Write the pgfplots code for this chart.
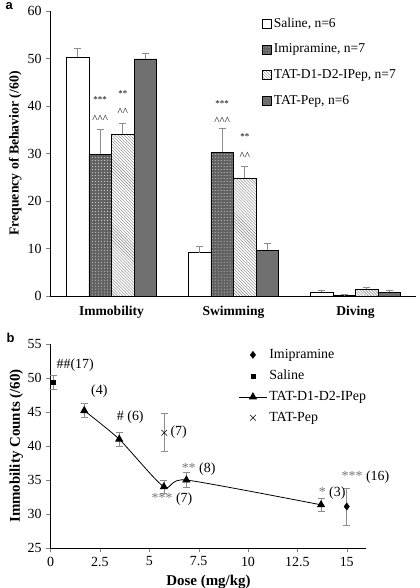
\documentclass[border=0pt]{standalone}
\usepackage{fontspec}
\setmainfont{Liberation Serif}
\newfontfamily\arialf{Liberation Sans}
\usepackage{pgfplots}
\pgfplotsset{compat=1.18}
\usetikzlibrary{patterns}
\definecolor{bargray}{RGB}{112,112,112}
\definecolor{dotgray}{RGB}{98,98,98}
\definecolor{errgray}{RGB}{140,140,140}
\definecolor{stargray}{RGB}{120,120,120}
\newcommand{\fs}[1]{\fontsize{#1}{#1}\selectfont}
\pgfplotstableread{
x y e
-0.2775 50.3 1.8
0.7225 9.1 1.4
1.7225 0.8 0.4
}\saline
\pgfplotstableread{
x y e
-0.0925 29.8 5.2
0.9075 30.3 5.0
1.9075 0.2 0.1
}\imip
\pgfplotstableread{
x y e
0.0925 34.1 2.3
1.0925 24.8 2.5
2.0925 1.4 0.5
}\tatd
\pgfplotstableread{
x y e
0.2775 49.9 1.1
1.2775 9.6 1.4
2.2775 0.8 0.4
}\tatpep
\begin{document}
\fs{14}
\begin{tikzpicture}
\useasboundingbox (0,0) rectangle (416bp,-588bp);
\node[anchor=north west, inner sep=0pt, font=\arialf\bfseries\fs{13}] at (2bp,-2bp) {a};
\node[anchor=north west, inner sep=0pt, font=\arialf\bfseries\fs{13}] at (3bp,-333bp) {b};
\begin{axis}[
  at={(47bp,-296bp)}, anchor=south west,
  scale only axis, width=366bp, height=285bp,
  xmin=-0.5, xmax=2.5, ymin=0, ymax=60,
  axis x line*=bottom, axis y line*=left,
  xtick={0,1,2}, xticklabels={Immobility,Swimming,Diving},
  /pgf/number format/assume math mode=true,
  y tick label style={font=\fs{14}},
  x tick label style={font=\bfseries\fs{13.6}, yshift=-1bp},
  major x tick style={draw=none},
  ytick={0,10,...,60},
  tick align=outside, major tick length=4bp,
  every axis y label/.style={at={(axis description cs:-0.096,0.5)}, rotate=90, anchor=center, font=\bfseries\fs{13.8}},
  ylabel={Frequency of Behavior (/60)},
  error bars/y dir=plus, error bars/y explicit,
  error bars/error bar style={errgray, line width=0.7pt},
  error bars/error mark options={errgray, rotate=90, mark size=3.5bp, line width=0.7pt},
  legend style={at={(axis description cs:0.57,0.99)}, anchor=north west, draw=none, fill=none, row sep=10.5bp, font=\fs{13.6}},
  legend cell align=left,
  legend image code/.code={\draw[#1] (0bp,-4.5bp) rectangle (9bp,4.5bp);},
]
\addplot[ybar, bar shift=0pt, bar width=0.185, fill=white, draw=black, line width=0.6pt]
  table[x=x, y=y, y error=e] {\saline};
\addlegendentry{Saline, n=6}
\addplot[ybar, bar shift=0pt, bar width=0.185, fill=dotgray, draw=black, line width=0.6pt, postaction={pattern=dots, pattern color=white!75!gray}]
  table[x=x, y=y, y error=e] {\imip};
\addlegendentry{Imipramine, n=7}
\addplot[ybar, bar shift=0pt, bar width=0.185, fill=white, draw=black, line width=0.6pt, postaction={pattern=north west lines, pattern color=gray}]
  table[x=x, y=y, y error=e] {\tatd};
\addlegendentry{TAT-D1-D2-IPep, n=7}
\addplot[ybar, bar shift=0pt, bar width=0.185, fill=bargray, draw=black, line width=0.6pt]
  table[x=x, y=y, y error=e] {\tatpep};
\addlegendentry{TAT-Pep, n=6}
\begin{scope}[every node/.style={font=\fs{9}, inner sep=0pt}]
\node at (axis cs:-0.0925,41.3) {***};
\node[font=\fs{11}] at (axis cs:-0.0925,37.3) {\textasciicircum\textasciicircum\textasciicircum};
\node at (axis cs:0.0925,42.7) {**};
\node[font=\fs{11}] at (axis cs:0.0925,38.8) {\textasciicircum\textasciicircum};
\node at (axis cs:0.9075,40.6) {***};
\node[font=\fs{11}] at (axis cs:0.9075,36.8) {\textasciicircum\textasciicircum\textasciicircum};
\node at (axis cs:1.0925,33.5) {**};
\node[font=\fs{11}] at (axis cs:1.0925,29.5) {\textasciicircum\textasciicircum};
\end{scope}
\end{axis}
\begin{axis}[
  at={(47bp,-548bp)}, anchor=south west,
  scale only axis, width=316bp, height=204bp,
  xmin=0, xmax=16, ymin=25, ymax=55,
  clip=false,
  axis x line*=bottom, axis y line*=left,
  xtick={0,2.5,5,7.5,10,12.5,15},
  ytick={25,30,...,55},
  tick align=outside, major tick length=4bp,
  /pgf/number format/assume math mode=true,
  tick label style={font=\fs{14}},
  every axis y label/.style={at={(axis description cs:-0.108,0.5)}, rotate=90, anchor=center, font=\bfseries\fs{15}},
  every axis x label/.style={at={(axis description cs:0.5,-0.165)}, anchor=center, font=\bfseries\fs{15}},
  ylabel={Immobility Counts (/60)},
  xlabel={Dose (mg/kg)},
  error bars/error bar style={errgray, line width=0.7pt},
  error bars/error mark options={errgray, rotate=90, mark size=3.5bp, line width=0.7pt},
  legend style={at={(axis description cs:0.585,0.995)}, anchor=north west, draw=none, fill=none, row sep=5.5bp, font=\fs{14}},
  legend cell align=left,
  legend image code/.code={\draw[mark repeat=2, mark phase=2, #1] plot coordinates {(0bp,0bp) (14bp,0bp) (28bp,0bp)};},
]
\addplot[only marks, mark=diamond*, mark size=3.6bp, black, error bars/.cd, y dir=both, y explicit]
  coordinates {(15,31.1) +- (0,2.7)};
\addlegendentry{Imipramine}
\addplot[only marks, mark=square*, mark size=2.2bp, black, error bars/.cd, y dir=both, y explicit]
  coordinates {(0.15,49.4) +- (0,1.0)};
\addlegendentry{Saline}
\addplot[black, line width=0.8pt, smooth, tension=0.4, mark=triangle*, mark size=4bp, mark options={solid}, error bars/.cd, y dir=both, y explicit]
  coordinates {(1.71,45.2) +- (0,1.0) (3.48,41.0) +- (0,1.0) (5.74,34.0) +- (0,1.0) (6.88,35.0) +- (0,1.1) (13.70,31.35) +- (0,1.0)};
\addlegendentry{TAT-D1-D2-IPep}
\addplot[only marks, mark=x, mark size=4bp, black, line width=0.6pt, error bars/.cd, y dir=both, y explicit]
  coordinates {(5.76,41.95) +- (0,2.8)};
\addlegendentry{TAT-Pep}
\begin{scope}[every node/.style={font=\fs{14}, inner sep=0pt}]
\node[anchor=west] at (axis cs:0.3,51.9) {\#\#(17)};
\node at (axis cs:2.47,48.0) {(4)};
\node at (axis cs:4.04,44.2) {\# (6)};
\node at (axis cs:6.49,42.0) {(7)};
\node at (axis cs:7.50,36.6) {\textcolor{stargray}{**} (8)};
\node at (axis cs:6.15,32.25) {\textcolor{stargray}{***} (7)};
\node at (axis cs:14.26,33.0) {\textcolor{stargray}{*} (3)};
\node at (axis cs:15.95,35.4) {\textcolor{stargray}{***} (16)};
\end{scope}
\end{axis}
\end{tikzpicture}
\end{document}
